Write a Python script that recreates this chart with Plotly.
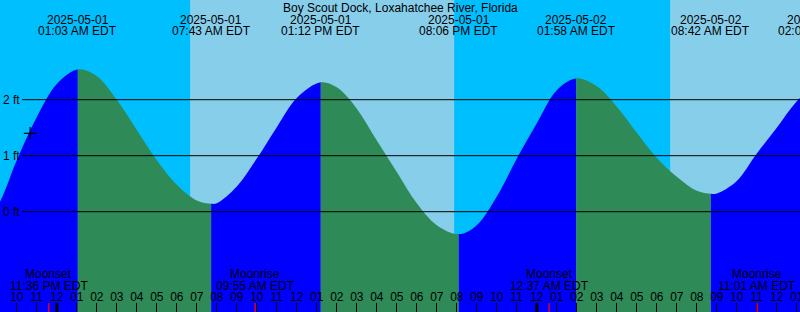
import plotly.graph_objects as go
from datetime import datetime, timedelta

TITLE = "Boy Scout Dock, Loxahatchee River, Florida"

# Tide extremes (time, level in ft, kind)
tide_times = ["2025-04-30 19:09", "2025-05-01 01:03", "2025-05-01 07:43",
              "2025-05-01 13:12", "2025-05-01 20:06", "2025-05-02 01:58",
              "2025-05-02 08:42", "2025-05-02 14:03"]
tide_levels = [-0.45, 2.54, 0.14, 2.31, -0.40, 2.38, 0.32, 2.33]
tide_kinds = ["low", "high", "low", "high", "low", "high", "low", "high"]

# Hourly water level, starting 2025-04-30 20:00
sample_start = "2025-04-30 20:00"
sample_levels = [-0.30, 0.08, 0.92, 1.69, 2.28, 2.54, 2.42, 2.00, 1.46, 0.92,
                 0.48, 0.20, 0.15, 0.45, 0.95, 1.51, 2.03, 2.30, 2.22, 1.84,
                 1.27, 0.71, 0.15, -0.24, -0.40, -0.24, 0.27, 0.95, 1.58, 2.17,
                 2.38, 2.24, 1.875, 1.41, 0.96, 0.625, 0.375, 0.325, 0.55, 1.04,
                 1.50, 1.97, 2.33]

# Sun and moon events
sunrise_times = ["2025-05-01 06:40", "2025-05-02 06:40"]
sunset_times = ["2025-05-01 19:52", "2025-05-02 19:53"]
moon_times = ["2025-04-30 23:36", "2025-05-01 09:55", "2025-05-02 00:37", "2025-05-02 11:01"]
moon_kinds = ["Moonset", "Moonrise", "Moonset", "Moonrise"]
day_starts = ["2025-05-01 00:00", "2025-05-02 00:00"]

# Current-time mark
mark_time = "2025-04-30 22:40"
mark_level = 1.40

grid_levels = [0, 1, 2]
grid_labels = ["0 ft", "1 ft", "2 ft"]

VIEW_START = "2025-04-30 21:09:36"
VIEW_HOURS = 40
Y_RANGE = [-1.791, 3.780]
FLOOR = -3.0

W, H = 800, 312
NIGHT = "#00BFFF"
DAY = "#87CEEB"
FLOOD = "#0000FF"
EBB = "#2E8B57"
FONT = "Liberation Sans"


def p(s):
    for f in ("%Y-%m-%d %H:%M:%S", "%Y-%m-%d %H:%M"):
        try:
            return datetime.strptime(s, f)
        except ValueError:
            pass
    raise ValueError(s)


t0 = p(VIEW_START)
t1 = t0 + timedelta(hours=VIEW_HOURS)


def xpaper(t):
    return (t - t0).total_seconds() / (t1 - t0).total_seconds()


def ypaper(px):
    return 1 - px / H


s0 = p(sample_start)
samples = [(s0 + timedelta(hours=i), v) for i, v in enumerate(sample_levels)]
ext = [(p(t), v, k) for t, v, k in zip(tide_times, tide_levels, tide_kinds)]
# an extreme supersedes an hourly reading taken within a few minutes of it
near = timedelta(minutes=12)
kept = [(t, v) for t, v in samples if all(abs(t - e) > near for e, _, _ in ext)]
curve = sorted(kept + [(t, v) for t, v, _ in ext])
cx = [t for t, _ in curve]
cy = [v for _, v in curve]

fig = go.Figure()
axes_layout = {}

# One clipped sub-axis per rising / falling stretch so the one smooth curve
# is filled blue while rising and green while falling.
bounds = [t0] + [t for t, _, _ in ext if t0 < t < t1] + [t1]
for i, (a, b) in enumerate(zip(bounds[:-1], bounds[1:])):
    nxt = next(k for t, _, k in ext if t >= b)
    color = FLOOD if nxt == "high" else EBB
    sid = "" if i == 0 else str(i + 1)
    axes_layout["xaxis" + sid] = dict(type="date", domain=[xpaper(a), xpaper(b)],
                                      range=[a, b], anchor="y", visible=False,
                                      automargin=False)
    fig.add_trace(go.Scatter(x=[cx[0], cx[-1]], y=[FLOOR, FLOOR], xaxis="x" + sid, yaxis="y",
                             mode="lines", line=dict(width=0), hoverinfo="skip"))
    fig.add_trace(go.Scatter(x=cx, y=cy, xaxis="x" + sid, yaxis="y", mode="lines",
                             fill="tonexty", fillcolor=color,
                             line=dict(width=0, shape="spline", smoothing=1),
                             hoverinfo="skip"))

nseg = len(bounds) - 1
TK = "x%d" % (nseg + 1)      # axis carrying the hour tick marks
LB = "x%d" % (nseg + 2)      # overlaid axis carrying the hour labels

fig.add_trace(go.Scatter(x=[t for t, _, _ in ext], y=[v for _, v, _ in ext], xaxis=TK, yaxis="y2",
                         mode="markers", marker=dict(opacity=0), hoverinfo="skip"))
fig.add_trace(go.Scatter(x=[p(mark_time)], y=[mark_level], xaxis=LB, yaxis="y2", mode="markers",
                         marker=dict(symbol="cross-thin-open", size=9, color="black",
                                     line=dict(color="black", width=1.2)),
                         hoverinfo="skip"))

shapes = []
for sr, ss in zip(sunrise_times, sunset_times):
    shapes.append(dict(type="rect", xref="paper", yref="paper",
                       x0=max(0, xpaper(p(sr))), x1=min(1, xpaper(p(ss))),
                       y0=0, y1=1, fillcolor=DAY, line=dict(width=0), layer="below"))
for g in grid_levels:
    shapes.append(dict(type="line", xref="paper", yref="y", x0=22 / W, x1=1,
                       y0=g, y1=g, line=dict(color="black", width=1), layer="above"))
for d in day_starts:
    shapes.append(dict(type="line", xref=TK, yref="paper", x0=p(d), x1=p(d),
                       y0=0, y1=9 / H, line=dict(color="black", width=3), layer="above"))
for m in moon_times:
    shapes.append(dict(type="line", xref=TK, yref="paper", x0=p(m), x1=p(m),
                       y0=0, y1=9 / H, line=dict(color="red", width=1.3), layer="above"))

ann = []
tf = dict(family=FONT, size=12, color="black")
for t, v, k in ext:
    xp = xpaper(t)
    ann.append(dict(xref="paper", yref="paper", x=xp, y=ypaper(19.5), text=t.strftime("%Y-%m-%d"),
                    showarrow=False, xanchor="center", yanchor="middle", font=tf))
    ann.append(dict(xref="paper", yref="paper", x=xp, y=ypaper(31.5), text=t.strftime("%I:%M %p EDT"),
                    showarrow=False, xanchor="center", yanchor="middle", font=tf))
for m, k in zip(moon_times, moon_kinds):
    t = p(m)
    xp = xpaper(t)
    ann.append(dict(xref="paper", yref="paper", x=xp, y=ypaper(273.5), text=k,
                    showarrow=False, xanchor="center", yanchor="middle", font=tf))
    ann.append(dict(xref="paper", yref="paper", x=xp, y=ypaper(285.7), text=t.strftime("%I:%M %p EDT"),
                    showarrow=False, xanchor="center", yanchor="middle", font=tf))
ann.append(dict(xref="paper", yref="paper", x=0.5, y=ypaper(7.5), text=TITLE,
                showarrow=False, xanchor="center", yanchor="middle", font=tf))

axes_layout["xaxis%d" % (nseg + 1)] = dict(
    type="date", domain=[0, 1], range=[t0, t1], anchor="y2", automargin=False,
    showgrid=False, zeroline=False, showline=False, showticklabels=False,
    ticks="inside", ticklen=9, tickwidth=1, tickcolor="black",
    tick0="2025-05-01 00:00", dtick=3600000)
axes_layout["xaxis%d" % (nseg + 2)] = dict(
    type="date", overlaying=TK, side="top", anchor="free", position=ypaper(303),
    range=[t0, t1], automargin=False, showgrid=False, zeroline=False, showline=False,
    ticks="", tick0="2025-05-01 00:00", dtick=3600000, tickformat="%I", tickfont=tf,
    ticklabeloverflow="allow")
# the level labels sit on the first stretch's y axis (left edge)
axes_layout["yaxis"] = dict(range=Y_RANGE, anchor="x", automargin=False,
                            showgrid=False, zeroline=False, showline=False,
                            tickvals=grid_levels, ticktext=grid_labels, ticks="",
                            ticklabelposition="inside", tickfont=tf)
axes_layout["yaxis2"] = dict(range=Y_RANGE, anchor=TK, domain=[0, 1], automargin=False,
                             visible=False)

fig.update_layout(
    template="none",
    width=W, height=H, autosize=False,
    margin=dict(l=0, r=0, t=0, b=0, pad=0),
    paper_bgcolor=NIGHT, plot_bgcolor="rgba(0,0,0,0)",
    showlegend=False, hovermode=False,
    shapes=shapes, annotations=ann,
    font=tf,
    **axes_layout,
)

fig.write_html("out.html")
